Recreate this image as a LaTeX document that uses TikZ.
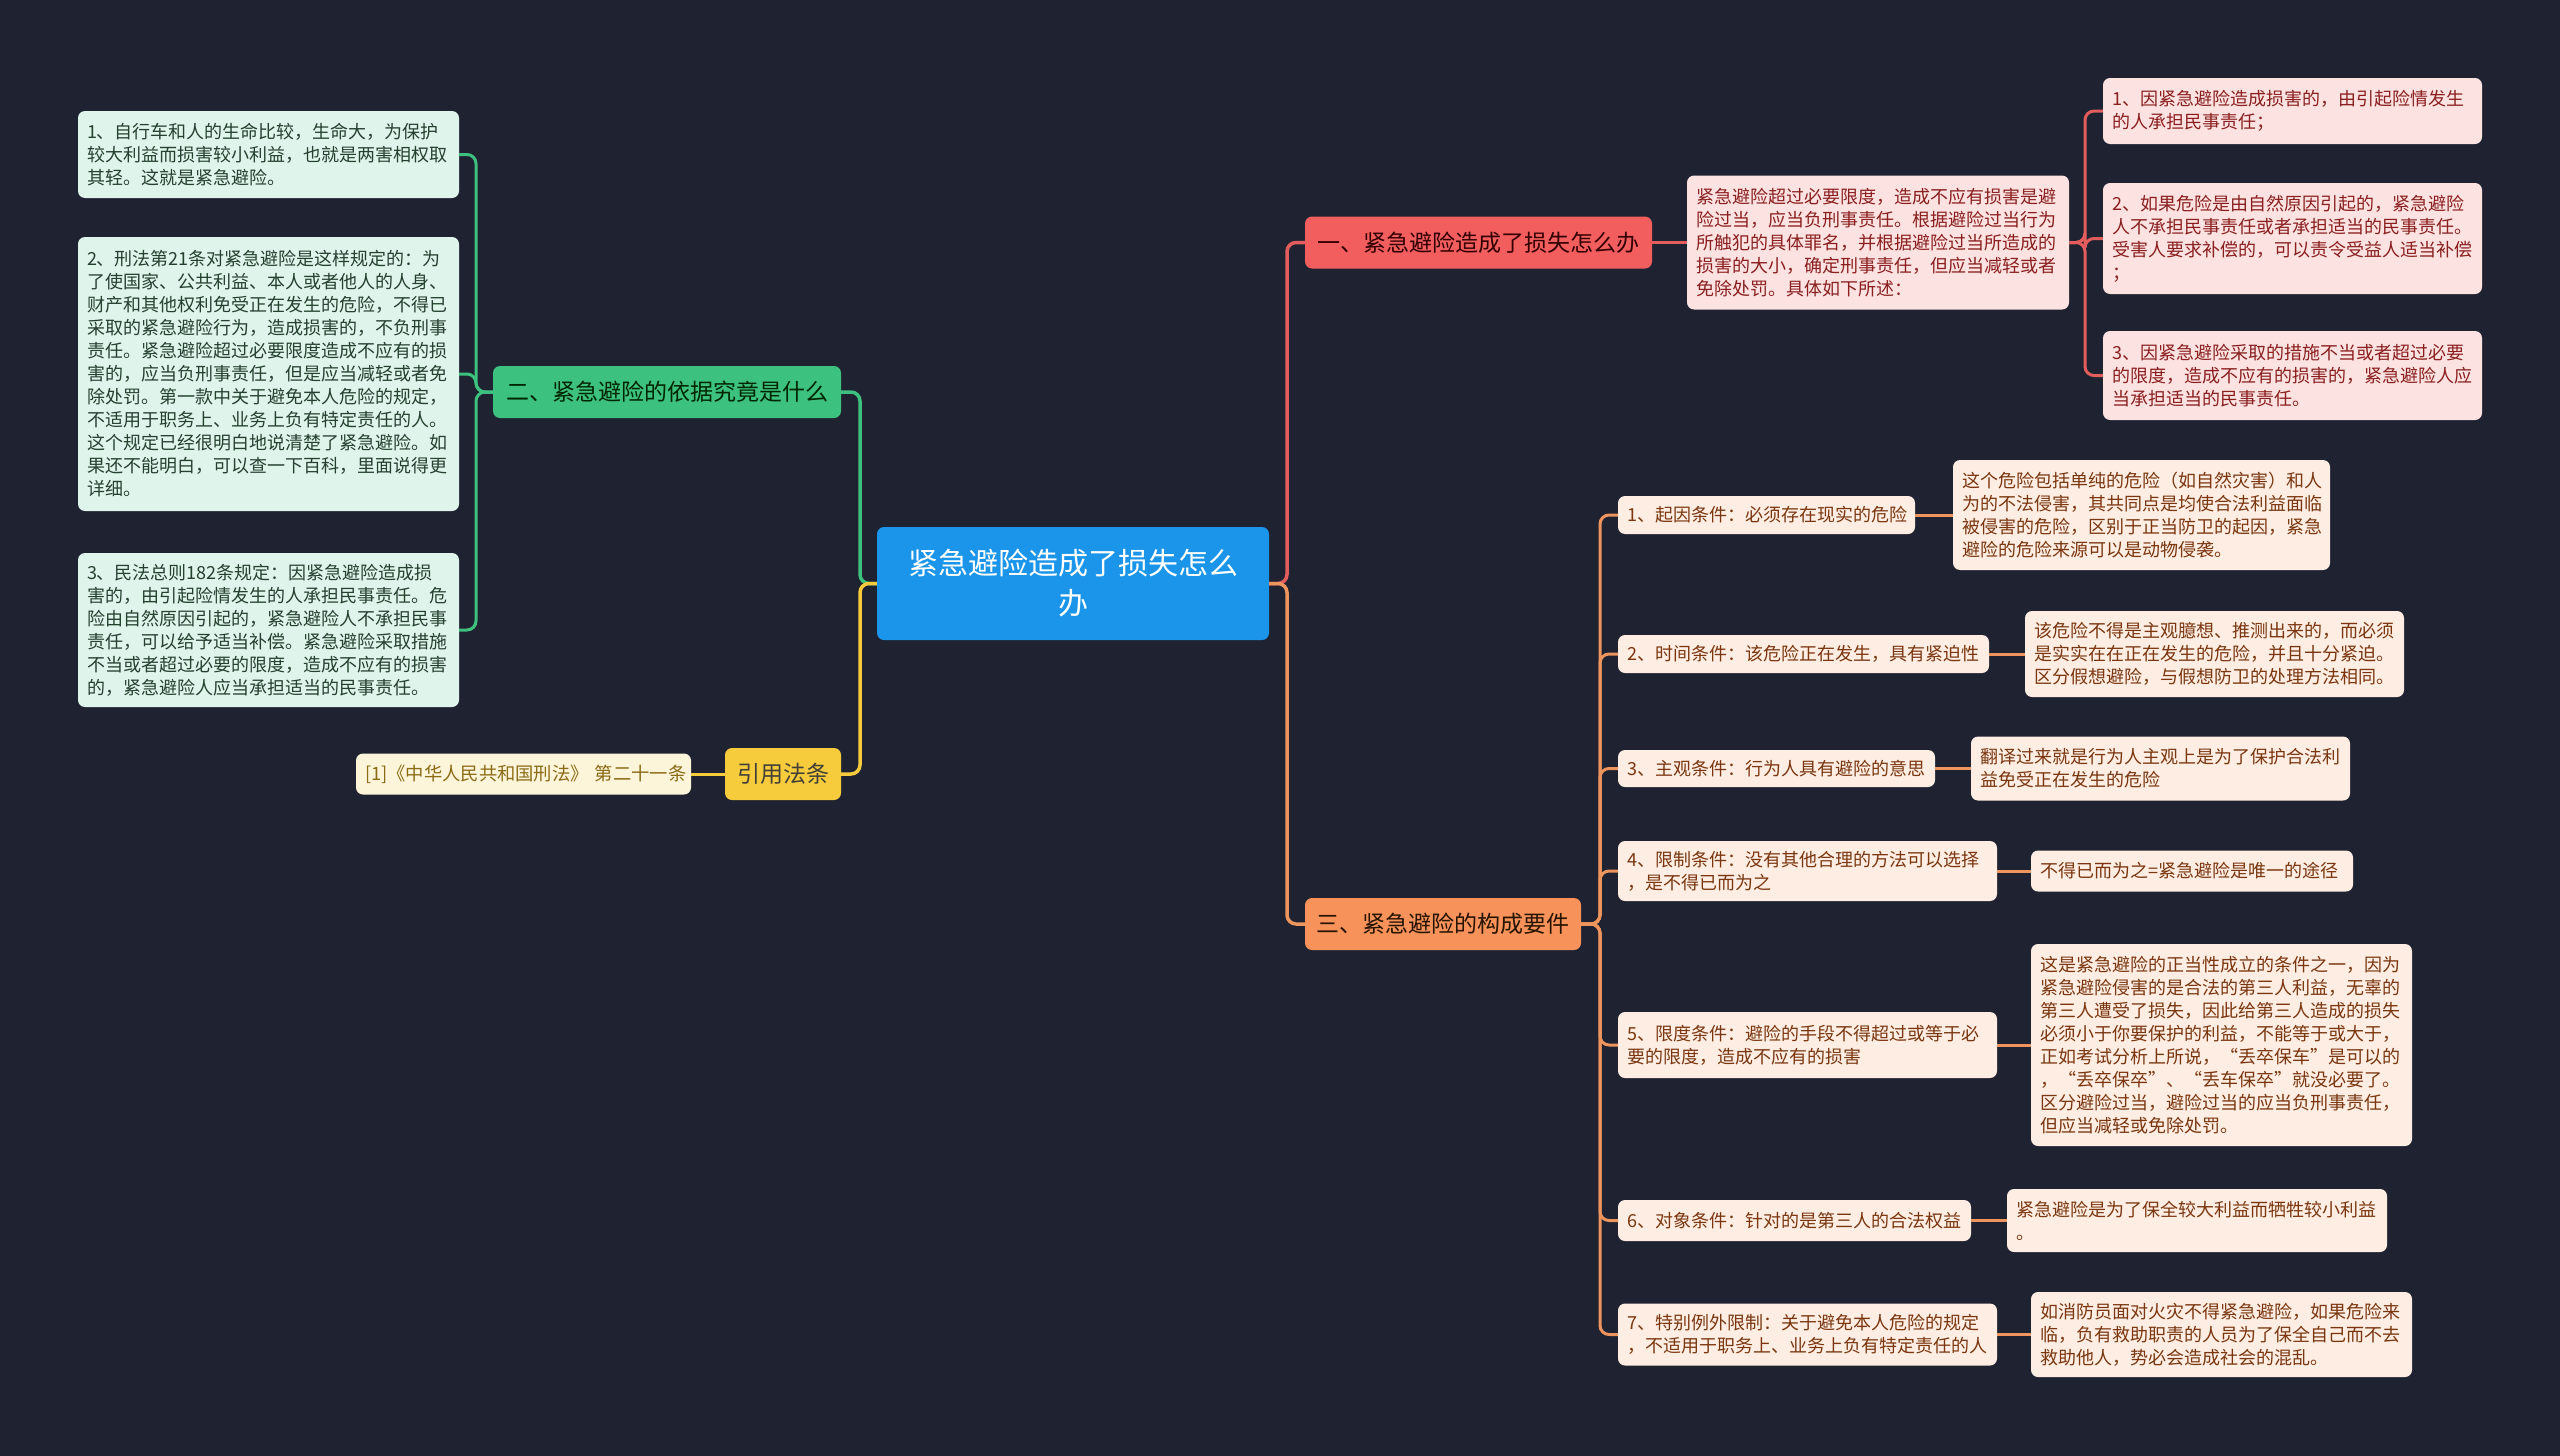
\documentclass[tikz,border=0pt]{standalone}
\usepackage{fontspec}
\setmainfont{Noto Sans CJK SC}
\definecolor{bg}{HTML}{1F2230}
\definecolor{cblue}{HTML}{1B95EA}
\definecolor{cred}{HTML}{F25E5E}
\definecolor{credL}{HTML}{E35D5D}
\definecolor{credF}{HTML}{FDE2E2}
\definecolor{credT}{HTML}{8A1F1F}
\definecolor{cgrn}{HTML}{3DC17E}
\definecolor{cgrnF}{HTML}{DFF4EA}
\definecolor{cgrnT}{HTML}{24402F}
\definecolor{cyel}{HTML}{F6CB3C}
\definecolor{cyelF}{HTML}{FDF5DA}
\definecolor{cyelT}{HTML}{8A6A14}
\definecolor{corg}{HTML}{F7935A}
\definecolor{corgL}{HTML}{EE955E}
\definecolor{corgF}{HTML}{FDEDE2}
\definecolor{corgT}{HTML}{7A3610}
\tikzset{
  rootbox/.style={fill=cblue, text=white, rounded corners=7pt, inner xsep=16pt, inner ysep=0pt, text width=360pt, align=center, minimum height=113pt, font=\fontsize{30}{40}\selectfont},
  branch/.style={rounded corners=7pt, inner sep=0pt, align=center, minimum height=52pt, font=\fontsize{23}{28}\selectfont},
  leaf/.style={rounded corners=7pt, inner xsep=9pt, inner ysep=3pt, align=left, font=\fontsize{18}{23}\selectfont},
  rleaf/.style={leaf, fill=credF, text=credT},
  gleaf/.style={leaf, fill=cgrnF, text=cgrnT},
  oleaf/.style={leaf, fill=corgF, text=corgT},
  yleaf/.style={leaf, fill=cyelF, text=cyelT},
  conn/.style={line width=3.5pt, rounded corners=9pt},
  subconn/.style={line width=3pt, rounded corners=9pt},
}
\begin{document}
\begin{tikzpicture}[x=1pt,y=-1pt]
\fill[bg] (0,0) rectangle (2560,1456);
\useasboundingbox (0,0) rectangle (2560,1456);

% root
\node[rootbox] (root) at (1073,583.5) {紧急避险造成了损失怎么\\办};

% branches
\node[branch, fill=cred, text=black!80!red, minimum width=347pt] (b1) at (1478.5,242.5) {一、紧急避险造成了损失怎么办};
\node[branch, fill=cgrn, text=black!85!green, minimum width=348pt] (b2) at (667,392) {二、紧急避险的依据究竟是什么};
\node[branch, fill=corg, text=black!85!orange, minimum width=276pt] (b3) at (1443,924) {三、紧急避险的构成要件};
\node[branch, fill=cyel, text=black!85!yellow, minimum width=116pt] (b4) at (783,774) {引用法条};

% branch 1 leaves
\node[rleaf, text width=364pt, minimum height=134pt] (rd) at (1878,242.5) {紧急避险超过必要限度，造成不应有损害是避\\险过当，应当负刑事责任。根据避险过当行为\\所触犯的具体罪名，并根据避险过当所造成的\\损害的大小，确定刑事责任，但应当减轻或者\\免除处罚。具体如下所述：};
\node[rleaf, text width=361pt, minimum height=66pt] (c1) at (2292.5,111) {1、因紧急避险造成损害的，由引起险情发生\\的人承担民事责任；};
\node[rleaf, text width=361pt, minimum height=111pt] (c2) at (2292.5,238.5) {2、如果危险是由自然原因引起的，紧急避险\\人不承担民事责任或者承担适当的民事责任。\\受害人要求补偿的，可以责令受益人适当补偿\\；};
\node[rleaf, text width=361pt, minimum height=89pt] (c3) at (2292.5,375.5) {3、因紧急避险采取的措施不当或者超过必要\\的限度，造成不应有的损害的，紧急避险人应\\当承担适当的民事责任。};

% branch 2 leaves
\node[gleaf, text width=363pt, minimum height=87pt] (g1) at (268.5,154.5) {1、自行车和人的生命比较，生命大，为保护\\较大利益而损害较小利益，也就是两害相权取\\其轻。这就是紧急避险。};
\node[gleaf, text width=363pt, minimum height=274pt] (g2) at (268.5,374) {2、刑法第21条对紧急避险是这样规定的：为\\了使国家、公共利益、本人或者他人的人身、\\财产和其他权利免受正在发生的危险，不得已\\采取的紧急避险行为，造成损害的，不负刑事\\责任。紧急避险超过必要限度造成不应有的损\\害的，应当负刑事责任，但是应当减轻或者免\\除处罚。第一款中关于避免本人危险的规定，\\不适用于职务上、业务上负有特定责任的人。\\这个规定已经很明白地说清楚了紧急避险。如\\果还不能明白，可以查一下百科，里面说得更\\详细。};
\node[gleaf, text width=363pt, minimum height=154pt] (g3) at (268.5,630) {3、民法总则182条规定：因紧急避险造成损\\害的，由引起险情发生的人承担民事责任。危\\险由自然原因引起的，紧急避险人不承担民事\\责任，可以给予适当补偿。紧急避险采取措施\\不当或者超过必要的限度，造成不应有的损害\\的，紧急避险人应当承担适当的民事责任。};

% branch 4 leaf
\node[yleaf, text width=317pt, minimum height=41pt, font=\fontsize{18.3}{22}\selectfont] (y1) at (523.5,774) {[1]《中华人民共和国刑法》~第二十一条};

% branch 3 leaves
\node[oleaf, text width=279pt, minimum height=38pt] (o1) at (1766.5,515) {1、起因条件：必须存在现实的危险};
\node[oleaf, text width=359pt, minimum height=110pt] (o1d) at (2141.5,515) {这个危险包括单纯的危险（如自然灾害）和人\\为的不法侵害，其共同点是均使合法利益面临\\被侵害的危险，区别于正当防卫的起因，紧急\\避险的危险来源可以是动物侵袭。};
\node[oleaf, text width=353pt, minimum height=38pt] (o2) at (1803.5,654) {2、时间条件：该危险正在发生，具有紧迫性};
\node[oleaf, text width=361pt, minimum height=86pt] (o2d) at (2214.5,654) {该危险不得是主观臆想、推测出来的，而必须\\是实实在在正在发生的危险，并且十分紧迫。\\区分假想避险，与假想防卫的处理方法相同。};
\node[oleaf, text width=299pt, minimum height=37pt] (o3) at (1776.5,768.5) {3、主观条件：行为人具有避险的意思};
\node[oleaf, text width=361pt, minimum height=64pt] (o3d) at (2160.5,768.5) {翻译过来就是行为人主观上是为了保护合法利\\益免受正在发生的危险};
\node[oleaf, text width=361pt, minimum height=60pt] (o4) at (1807.5,871) {4、限制条件：没有其他合理的方法可以选择\\，是不得已而为之};
\node[oleaf, text width=304pt, minimum height=41pt] (o4d) at (2192,871) {不得已而为之=紧急避险是唯一的途径};
\node[oleaf, text width=361pt, minimum height=66pt] (o5) at (1807.5,1045) {5、限度条件：避险的手段不得超过或等于必\\要的限度，造成不应有的损害};
\node[oleaf, text width=363pt, minimum height=202pt] (o5d) at (2221.5,1045) {这是紧急避险的正当性成立的条件之一，因为\\紧急避险侵害的是合法的第三人利益，无辜的\\第三人遭受了损失，因此给第三人造成的损失\\必须小于你要保护的利益，不能等于或大于，\\正如考试分析上所说，“丢卒保车”是可以的\\，“丢卒保卒”、“丢车保卒”就没必要了。\\区分避险过当，避险过当的应当负刑事责任，\\但应当减轻或免除处罚。};
\node[oleaf, text width=335pt, minimum height=41pt] (o6) at (1794.5,1220.5) {6、对象条件：针对的是第三人的合法权益};
\node[oleaf, text width=362pt, minimum height=63pt] (o6d) at (2197,1220.5) {紧急避险是为了保全较大利益而牺牲较小利益\\。};
\node[oleaf, text width=361pt, minimum height=62pt] (o7) at (1807.5,1334.5) {7、特别例外限制：关于避免本人危险的规定\\，不适用于职务上、业务上负有特定责任的人};
\node[oleaf, text width=363pt, minimum height=85pt] (o7d) at (2221.5,1334.5) {如消防员面对火灾不得紧急避险，如果危险来\\临，负有救助职责的人员为了保全自己而不去\\救助他人，势必会造成社会的混乱。};

% junction coordinates
\coordinate (jR) at (1287,583.5);
\coordinate (jL) at (860,583.5);
\coordinate (jG) at (476,392);
\coordinate (jRed) at (2085,242.5);
\coordinate (jO) at (1600,924);

% root connectors
\draw[conn, credL] (root.east) -- (jR) |- (b1.west);
\draw[conn, corgL] (root.east) -- (jR) |- (b3.west);
\draw[conn, cgrn] (root.west) -- (jL) |- (b2.east);
\draw[conn, cyel] (root.west) -- (jL) |- (b4.east);

% branch 1
\draw[subconn, credL] (b1.east) -- (rd.west);
\draw[subconn, credL] (rd.east) -- (jRed) |- (c1.west);
\draw[subconn, credL] (rd.east) -- (jRed) |- (c2.west);
\draw[subconn, credL] (rd.east) -- (jRed) |- (c3.west);

% branch 2
\draw[subconn, cgrn] (b2.west) -- (jG) |- (g1.east);
\draw[subconn, cgrn] (b2.west) -- (jG) |- (g2.east);
\draw[subconn, cgrn] (b2.west) -- (jG) |- (g3.east);

% branch 4
\draw[subconn, cyel] (b4.west) -- (y1.east);

% branch 3
\foreach \n in {o1,o2,o3,o4,o5,o6,o7}{
  \draw[subconn, corgL] (b3.east) -- (jO) |- (\n.west);
  \draw[subconn, corgL] (\n.east) -- (\n d.west);
}
\end{tikzpicture}
\end{document}
